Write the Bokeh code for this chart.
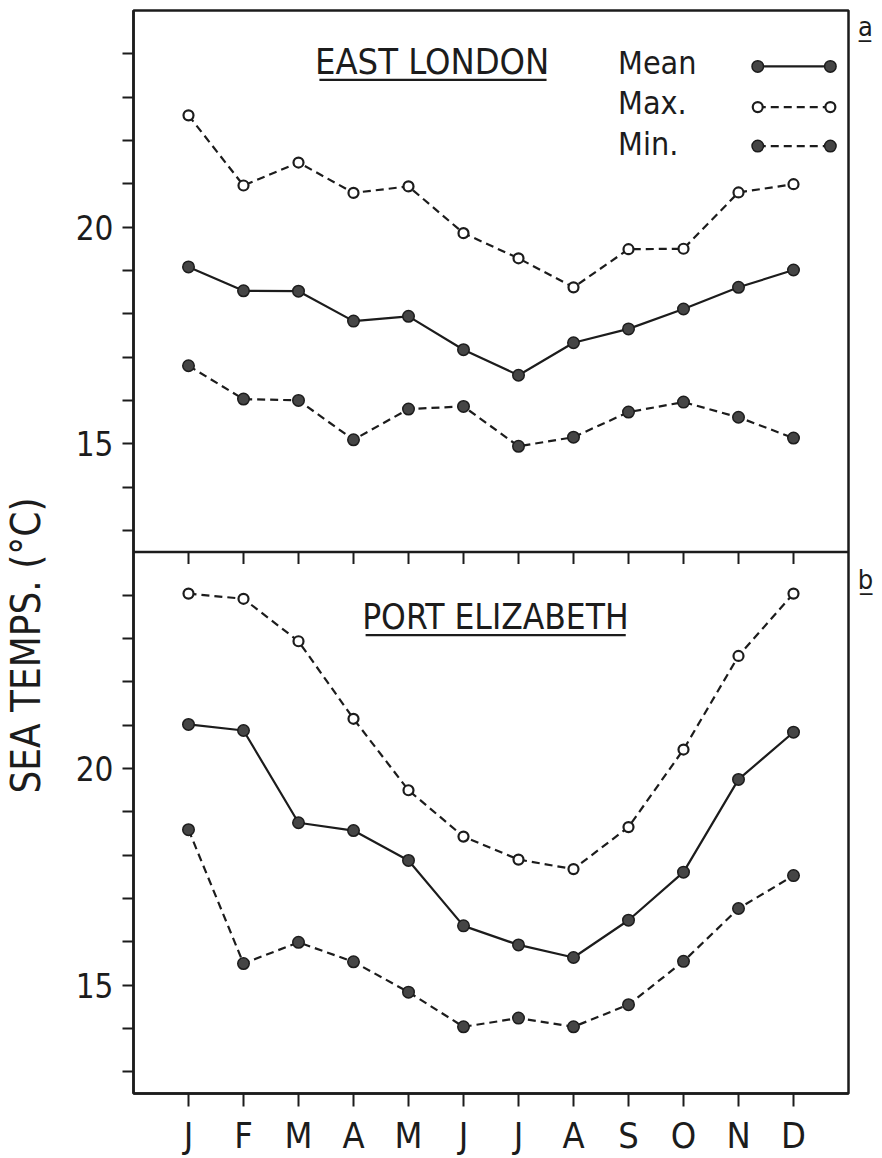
import math
from bokeh.plotting import figure
from bokeh.models import (Range1d, FixedTicker, CustomJSTickFormatter, Label,
                          Span, Arrow)
from bokeh.embed import file_html
from bokeh.resources import INLINE

# ---------------- data ----------------
MONTHS = [1, 2, 3, 4, 5, 6, 7, 8, 9, 10, 11, 12]
MONTH_LABELS = ["J", "F", "M", "A", "M", "J", "J", "A", "S", "O", "N", "D"]

EL_MEAN = [19.08, 18.53, 18.52, 17.83, 17.94, 17.17, 16.58, 17.33, 17.65, 18.11, 18.61, 19.01]
EL_MAX = [22.58, 20.96, 21.49, 20.79, 20.94, 19.86, 19.28, 18.61, 19.49, 19.50, 20.80, 20.99]
EL_MIN = [16.80, 16.03, 16.00, 15.09, 15.80, 15.86, 14.94, 15.15, 15.73, 15.96, 15.61, 15.13]

PE_MEAN = [21.02, 20.88, 18.75, 18.57, 17.88, 16.37, 15.93, 15.64, 16.50, 17.61, 19.75, 20.84]
PE_MAX = [24.04, 23.92, 22.94, 21.15, 19.50, 18.43, 17.90, 17.68, 18.65, 20.44, 22.60, 24.04]
PE_MIN = [18.59, 15.50, 15.99, 15.54, 14.84, 14.04, 14.24, 14.04, 14.55, 15.55, 16.77, 17.53]

Y_TICKS = list(range(13, 25))
Y_LABELLED = [15, 20]

TITLE_A = "EAST LONDON"
TITLE_B = "PORT ELIZABETH"
Y_TITLE = "SEA TEMPS. (°C)"
LEGEND_NAMES = ["Mean", "Max.", "Min."]
PANEL_LETTERS = ["a", "b"]

# ---------------- style ----------------
FONT = "DejaVu Sans Condensed"
INK = "#1c1c1c"
DOT = "#454545"
DASH = "8 5"
BASE_SHIFT = 0.28   # compensates the renderer's baseline offset (data units)
UNDERLINE = "\u0332"

PANEL_LO, PANEL_HI = 12.5, 25.0
SPAN = PANEL_HI - PANEL_LO

p = figure(width=882, height=1158,
           x_range=Range1d(0, 13),
           y_range=Range1d(PANEL_HI - 2 * SPAN, PANEL_HI),   # panel a: upper half
           output_backend="svg", toolbar_location=None,
           min_border_left=133, min_border_right=34,
           min_border_top=10, min_border_bottom=60)
p.extra_y_ranges = {"b": Range1d(PANEL_LO, PANEL_LO + 2 * SPAN)}  # panel b: lower half

p.background_fill_color = "white"
p.border_fill_color = "white"
p.outline_line_color = INK
p.outline_line_width = 2.5
p.xgrid.visible = False
p.ygrid.visible = False

# y axis: ticks for both panels on one axis
offset = p.extra_y_ranges["b"].start - p.y_range.start
tick_pos = [t - offset for t in Y_TICKS] + list(Y_TICKS)
yax = p.yaxis[0]
yax.ticker = FixedTicker(ticks=tick_pos)
yax.formatter = CustomJSTickFormatter(
    args=dict(off=offset, split=PANEL_LO, labelled=Y_LABELLED),
    code="""
    const v = tick < split ? tick + off : tick;
    const r = Math.round(v);
    return labelled.includes(r) && Math.abs(v - r) < 1e-6 ? String(r) : '';
    """)
yax.major_tick_out = 11
yax.major_tick_in = 0
yax.minor_tick_out = 0
yax.minor_tick_in = 0
yax.axis_line_width = 2.5
yax.axis_line_color = INK
yax.major_tick_line_width = 2
yax.major_tick_line_color = INK
yax.major_label_standoff = 9
yax.major_label_text_font = FONT
yax.major_label_text_font_size = "33px"
yax.major_label_text_color = INK

xax = p.xaxis[0]
xax.ticker = FixedTicker(ticks=MONTHS)
xax.major_label_overrides = {m: lab for m, lab in zip(MONTHS, MONTH_LABELS)}
xax.major_tick_out = 13
xax.major_tick_in = 0
xax.minor_tick_out = 0
xax.minor_tick_in = 0
xax.axis_line_width = 2.5
xax.axis_line_color = INK
xax.major_tick_line_width = 2
xax.major_tick_line_color = INK
xax.major_label_standoff = 8
xax.major_label_text_font = FONT
xax.major_label_text_font_size = "36px"
xax.major_label_text_color = INK

# separator between panels, with inward ticks on top of panel b
p.add_layout(Span(location=PANEL_HI, dimension="width", y_range_name="b",
                  line_color=INK, line_width=2.5))
p.ray(x=MONTHS, y=[PANEL_HI] * len(MONTHS), length=12, length_units="screen",
      angle=-math.pi / 2, y_range_name="b", line_color=INK, line_width=2)


def series(ys, rng, dash, filled):
    kw = {} if rng is None else {"y_range_name": rng}
    p.line(MONTHS, ys, line_color=INK, line_width=2.2, line_dash=dash, **kw)
    if filled:
        p.scatter(MONTHS, ys, size=11.5, fill_color=DOT, line_color=INK,
                  line_width=1.5, **kw)
    else:
        p.scatter(MONTHS, ys, size=10, fill_color="white", line_color=INK,
                  line_width=2.2, **kw)


series(EL_MAX, None, DASH, False)
series(EL_MIN, None, DASH, True)
series(EL_MEAN, None, "solid", True)
series(PE_MAX, "b", DASH, False)
series(PE_MIN, "b", DASH, True)
series(PE_MEAN, "b", "solid", True)


def label(x, y, text, size, rng=None, align="left", angle=0.0, place="center"):
    kw = {} if rng is None else {"y_range_name": rng}
    lab = Label(x=x, y=y + BASE_SHIFT, text=text, text_font=FONT, text_font_size=size,
                text_color=INK, text_align=align, text_baseline="alphabetic",
                angle=angle, **kw)
    p.add_layout(lab, place)


def rule(x0, x1, y, rng=None, width=2.2):
    kw = {} if rng is None else {"y_range_name": rng}
    p.add_layout(Arrow(start=None, end=None, x_start=x0, y_start=y, x_end=x1, y_end=y,
                       line_color=INK, line_width=width, **kw))


# titles (underlined)
label(5.43, 23.54, TITLE_A, "36px", align="center")
rule(3.38, 7.51, 23.40)
label(6.58, 23.21, TITLE_B, "35px", rng="b", align="center")
rule(4.22, 8.95, 23.08, rng="b")

# panel letters (outside the frame, right margin), underlined
for letter, ly, rng in zip(PANEL_LETTERS, [24.35, 24.08], [None, "b"]):
    label(13.31, ly, letter + UNDERLINE, "27px", rng=rng, align="center", place="right")

# legend (panel a, top right)
leg_rows = [23.71, 22.77, 21.87]
leg_text_y = [23.50, 22.58, 21.63]
leg_styles = [("solid", True), (DASH, False), (DASH, True)]
for name, ty, ry, (dash, filled) in zip(LEGEND_NAMES, leg_text_y, leg_rows, leg_styles):
    label(8.81, ty, name, "32px")
    xs = [11.35, 12.67]
    p.line(xs, [ry, ry], line_color=INK, line_width=2.2, line_dash=dash)
    if filled:
        p.scatter(xs, [ry, ry], size=11.5, fill_color=DOT, line_color=INK, line_width=1.5)
    else:
        p.scatter(xs, [ry, ry], size=10, fill_color="white", line_color=INK, line_width=2.2)

# y-axis title (left margin)
p.add_layout(Label(x=-1.95, y=10.34, text=Y_TITLE, text_font=FONT,
                   text_font_size="40px", text_color=INK, text_align="center",
                   text_baseline="middle", angle=math.pi / 2), "left")

open("out.html", "w").write(file_html(p, INLINE))
